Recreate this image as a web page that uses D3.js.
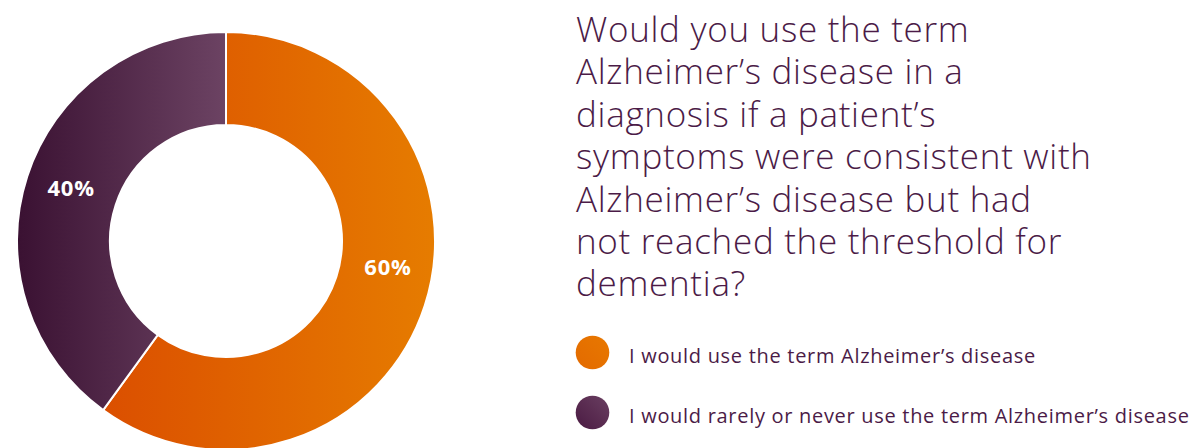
<!DOCTYPE html>
<html>
<head>
<meta charset="utf-8">
<script src="https://cdn.jsdelivr.net/npm/d3@7"></script>
<style>
  html, body { margin: 0; padding: 0; background: #ffffff; }
  svg { display: block; }
</style>
</head>
<body>
<svg id="chart" width="1189" height="448"></svg>
<script>
// ---- data ----
const categories = [
  "I would use the term Alzheimer\u2019s disease",
  "I would rarely or never use the term Alzheimer\u2019s disease"
];
const values = [60, 40];
const valueLabels = ["60%", "40%"];
const titleLines = [
  "Would you use the term",
  "Alzheimer\u2019s disease in a",
  "diagnosis if a patient\u2019s",
  "symptoms were consistent with",
  "Alzheimer\u2019s disease but had",
  "not reached the threshold for",
  "dementia?"
];

// ---- layout / style ----
const W = 1189, H = 448;
const cx = 226, cy = 241, outerR = 209, innerR = 116;
const textColor = "#4b1b47";
const gradStops = [
  ["#db4f00", "#e67c00"],   // orange
  ["#3a1132", "#6c4363"]    // purple
];
const legendGrad = [
  ["#e36a00", "#e87800"],
  ["#4a1a42", "#6a3f61"]
];

const svg = d3.select("#chart");
const defs = svg.append("defs");

const pie = d3.pie().sort(null).value(d => d)
  .startAngle(0).endAngle(2 * Math.PI);
const arcs = pie(values);
const arc = d3.arc().innerRadius(innerR).outerRadius(outerR);

function sliceXExtent(a) {
  const xs = [];
  const n = 200;
  for (let k = 0; k <= n; k++) {
    const t = a.startAngle + (a.endAngle - a.startAngle) * k / n;
    xs.push(outerR * Math.sin(t), innerR * Math.sin(t));
  }
  return [d3.min(xs), d3.max(xs)];
}

// gradients spanning each slice's horizontal extent (in the slice group's space)
arcs.forEach((a, i) => {
  const [x0, x1] = sliceXExtent(a);
  const gr = defs.append("linearGradient")
    .attr("id", "sliceGrad" + i)
    .attr("gradientUnits", "userSpaceOnUse")
    .attr("x1", x0).attr("y1", 0)
    .attr("x2", x1).attr("y2", 0);
  gr.append("stop").attr("offset", "0%").attr("stop-color", gradStops[i][0]);
  gr.append("stop").attr("offset", "100%").attr("stop-color", gradStops[i][1]);

  const lg = defs.append("linearGradient")
    .attr("id", "legGrad" + i)
    .attr("x1", "0%").attr("y1", "100%").attr("x2", "100%").attr("y2", "0%");
  lg.append("stop").attr("offset", "0%").attr("stop-color", legendGrad[i][0]);
  lg.append("stop").attr("offset", "100%").attr("stop-color", legendGrad[i][1]);
});

const g = svg.append("g").attr("transform", `translate(${cx},${cy})`);
g.selectAll("path.slice")
  .data(arcs)
  .join("path")
  .attr("class", "slice")
  .attr("d", arc)
  .attr("fill", (d, i) => `url(#sliceGrad${i})`)
  .attr("stroke", "#ffffff")
  .attr("stroke-width", 2);

// value labels
const labelR = 164;
const labelShift = [-0.16, 0.02]; // small angular nudges (radians)
g.selectAll("text.val")
  .data(arcs)
  .join("text")
  .attr("class", "val")
  .attr("x", (d, i) => labelR * Math.sin((d.startAngle + d.endAngle) / 2 + labelShift[i]))
  .attr("y", (d, i) => -labelR * Math.cos((d.startAngle + d.endAngle) / 2 + labelShift[i]))
  .attr("text-anchor", "middle")
  .attr("dominant-baseline", "central")
  .attr("fill", "#ffffff")
  .style("font-family", "'Open Sans', sans-serif")
  .style("font-weight", 700)
  .style("font-size", "22px")
  .style("letter-spacing", "0.8px")
  .text((d, i) => valueLabels[i]);

// title
const title = svg.append("text")
  .attr("fill", textColor)
  .style("font-family", "'Open Sans', sans-serif")
  .style("font-weight", 300)
  .style("font-size", "35px")
  .style("letter-spacing", "0.7px");
title.selectAll("tspan")
  .data(titleLines)
  .join("tspan")
  .attr("x", 576)
  .attr("y", (d, i) => 42 + i * 42.4)
  .text(d => d);

// legend
const leg = svg.append("g");
const legY = d3.scalePoint().domain(categories).range([352.5, 412.5]);
leg.selectAll("ellipse")
  .data(categories)
  .join("ellipse")
  .attr("cx", 592.5)
  .attr("cy", d => legY(d))
  .attr("rx", 16.8).attr("ry", 16.8)
  .attr("fill", (d, i) => `url(#legGrad${i})`);
leg.selectAll("text")
  .data(categories)
  .join("text")
  .attr("x", 629)
  .attr("y", d => legY(d) + 10.5)
  .attr("fill", textColor)
  .style("font-family", "'Open Sans', sans-serif")
  .style("font-size", "20px")
  .style("letter-spacing", "0.7px")
  .text(d => d);
</script>
</body>
</html>
